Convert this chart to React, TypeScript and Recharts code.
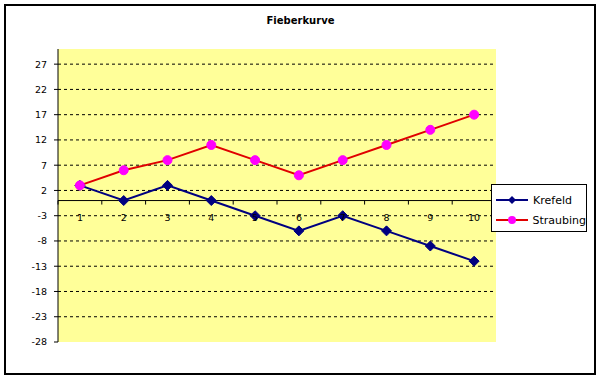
import React from "react";
import {
  LineChart,
  Line,
  XAxis,
  YAxis,
  CartesianGrid,
  ReferenceLine,
} from "recharts";

const days = ["1", "2", "3", "4", "5", "6", "7", "8", "9", "10"];
const krefeld = [3, 0, 3, 0, -3, -6, -3, -6, -9, -12];
const straubing = [3, 6, 8, 11, 8, 5, 8, 11, 14, 17];
const yTicks = [-28, -23, -18, -13, -8, -3, 2, 7, 12, 17, 22, 27];
const gridValues = [-23, -18, -13, -8, -3, 2, 7, 12, 17, 22, 27];

const Y_MIN = -28;
const Y_MAX = 30;
const PLOT_TOP = 49;
const PLOT_H = 293;
const PLOT_W = 438;
const zeroY = PLOT_TOP + (PLOT_H * Y_MAX) / (Y_MAX - Y_MIN);
const band = PLOT_W / days.length;

const data = days.map((d, i) => ({
  day: d,
  Krefeld: krefeld[i],
  Straubing: straubing[i],
}));

const font = "'DejaVu Sans', Verdana, sans-serif";

const Diamond = (props: any) => {
  const { cx, cy } = props;
  if (cx == null || cy == null) return null;
  const s = 5;
  return (
    <polygon
      points={`${cx},${cy - s} ${cx + s},${cy} ${cx},${cy + s} ${cx - s},${cy}`}
      fill="#000080"
      stroke="#000080"
    />
  );
};

const Circle = (props: any) => {
  const { cx, cy } = props;
  if (cx == null || cy == null) return null;
  return <circle cx={cx} cy={cy} r={4.5} fill="#FF00FF" stroke="#FF00FF" />;
};

// category labels sit under the zero line, ticks on the band edges
const DayTick = (props: any) => {
  const { x, payload, index } = props;
  const left = x - band / 2;
  return (
    <g>
      <line x1={left} y1={zeroY} x2={left} y2={zeroY + 4} stroke="#000" />
      {index === days.length - 1 && (
        <line x1={x + band / 2} y1={zeroY} x2={x + band / 2} y2={zeroY + 4} stroke="#000" />
      )}
      <text
        x={x}
        y={zeroY + 20}
        textAnchor="middle"
        fontSize={9.5}
        fontFamily={font}
        fill="#000"
      >
        {payload.value}
      </text>
    </g>
  );
};

const LegendBox = () => (
  <div
    style={{
      position: "absolute",
      left: 491,
      top: 184,
      width: 96,
      height: 48,
      boxSizing: "border-box",
      border: "1px solid #000",
      background: "#fff",
      fontFamily: font,
      fontSize: 11,
      paddingTop: 5,
    }}
  >
    {[
      { name: "Krefeld", color: "#000080", mark: "d" },
      { name: "Straubing", color: "#E00000", mark: "c" },
    ].map((e) => (
      <div key={e.name} style={{ display: "flex", alignItems: "center", height: 20 }}>
        <svg width={38} height={12} style={{ marginLeft: 3 }}>
          <line x1={1} y1={6} x2={33} y2={6} stroke={e.color} strokeWidth={2} />
          {e.mark === "d" ? (
            <polygon points="17,2 21,6 17,10 13,6" fill="#000080" />
          ) : (
            <circle cx={17} cy={6} r={4} fill="#FF00FF" />
          )}
        </svg>
        <span>{e.name}</span>
      </div>
    ))}
  </div>
);

export default function App() {
  return (
    <div style={{ position: "absolute", left: 0, top: 0, width: 601, height: 379, background: "#fff" }}>
      <div
        style={{
          position: "absolute",
          left: 4,
          top: 4,
          width: 592,
          height: 371,
          boxSizing: "border-box",
          border: "2px solid #000",
        }}
      />
      <div
        style={{
          position: "absolute",
          top: 15,
          left: 0,
          width: 601,
          textAlign: "center",
          fontFamily: font,
          fontWeight: "bold",
          fontSize: 10,
        }}
      >
        Fieberkurve
      </div>
      <div style={{ position: "absolute", left: 0, top: 0 }}>
        <LineChart
          width={601}
          height={379}
          data={data}
          margin={{ top: PLOT_TOP, right: 105, bottom: 27, left: 8 }}
        >
          <CartesianGrid
            horizontal={true}
            vertical={false}
            horizontalValues={gridValues}
            stroke="#000"
            strokeDasharray="3 3"
            fill="#FFFF99"
            fillOpacity={1}
          />
          <XAxis
            dataKey="day"
            height={10}
            padding={{ left: band / 2, right: band / 2 }}
            axisLine={false}
            tickLine={false}
            interval={0}
            tick={<DayTick />}
          />
          <YAxis
            width={50}
            domain={[Y_MIN, Y_MAX]}
            ticks={yTicks}
            interval={0}
            axisLine={{ stroke: "#000" }}
            tickLine={{ stroke: "#000" }}
            tickSize={4}
            tickMargin={7}
            tick={{ fontSize: 9.5, fontFamily: font, fill: "#000" }}
          />
          <ReferenceLine y={0} stroke="#000" />
          <Line
            dataKey="Krefeld"
            stroke="#000080"
            strokeWidth={2}
            dot={<Diamond />}
            isAnimationActive={false}
          />
          <Line
            dataKey="Straubing"
            stroke="#E00000"
            strokeWidth={2}
            dot={<Circle />}
            isAnimationActive={false}
          />
        </LineChart>
      </div>
      <LegendBox />
    </div>
  );
}
